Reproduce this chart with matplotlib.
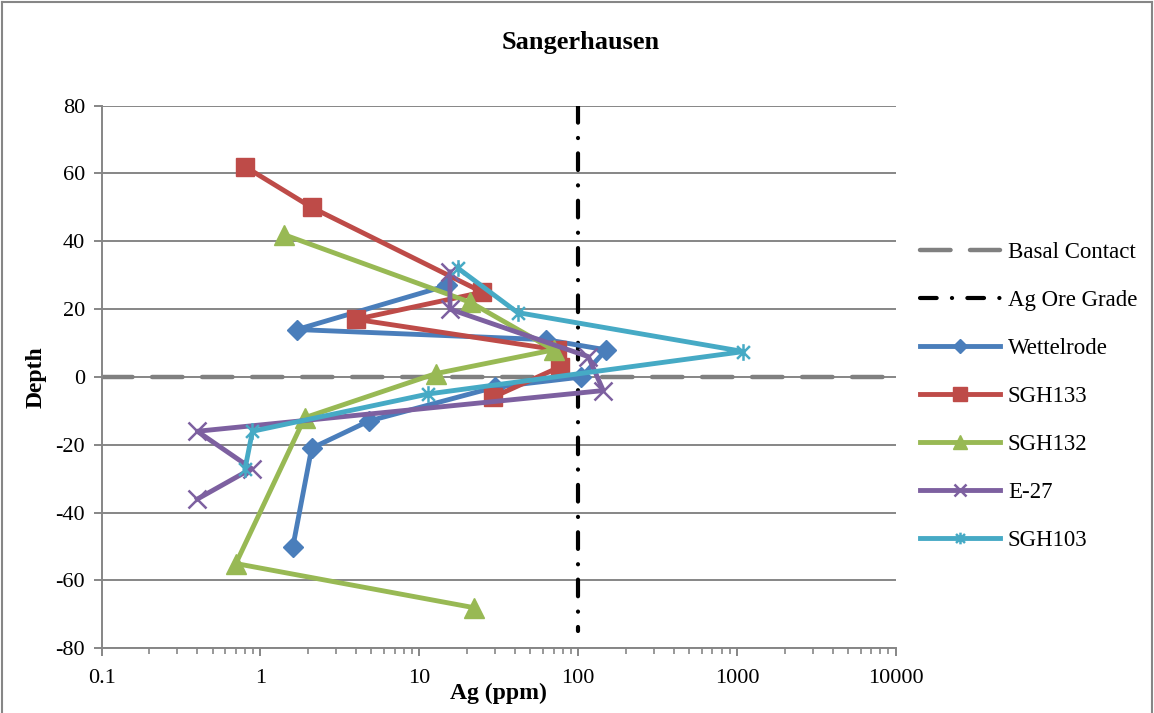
import matplotlib
matplotlib.use("Agg")
import matplotlib.pyplot as plt
from matplotlib.path import Path
from matplotlib.lines import Line2D

plt.rcParams['font.family'] = ['Liberation Serif', 'DejaVu Serif']
plt.rcParams['lines.scale_dashes'] = False
plt.rcParams['axes.unicode_minus'] = False

# Ag concentration (ppm) against depth for each profile
wettelrode_ag = [15, 1.7, 63, 150, 105, 30, 4.8, 2.1, 1.6]
wettelrode_depth = [27, 14, 11, 8, 0, -3, -13, -21, -50]

sgh133_ag = [0.8, 2.1, 25, 4, 74, 77, 29]
sgh133_depth = [62, 50, 25, 17, 8, 3, -6]

sgh132_ag = [1.4, 21, 70, 12.7, 1.9, 0.7, 22]
sgh132_depth = [42, 22, 8, 1, -12, -55, -68]

e27_ag = [15.6, 15.6, 116, 144, 0.4, 0.88, 0.4]
e27_depth = [31, 20, 6, -4, -16, -27, -36]

sgh103_ag = [17.6, 41.6, 1100, 11.4, 0.89, 0.8]
sgh103_depth = [32, 19, 7.5, -5, -16, -27]

# Reference lines
basal_ag = [0.1, 10000]
basal_depth = [0, 0]
ore_grade_ag = [100, 100]
ore_grade_depth = [80, -75]

x_ticks = [0.1, 1, 10, 100, 1000, 10000]
x_tick_labels = ['0.1', '1', '10', '100', '1000', '10000']
y_ticks = list(range(-80, 81, 20))

# Asterisk marker: an x with a vertical bar through it
star = Path([(-1, -1), (1, 1), (-1, 1), (1, -1), (0, -1.3), (0, 1.3)],
            [Path.MOVETO, Path.LINETO, Path.MOVETO, Path.LINETO, Path.MOVETO, Path.LINETO])

fig = plt.figure(figsize=(11.54, 7.13), dpi=100)
ax = fig.add_axes([0.0881, 0.0907, 0.6881, 0.7611])

grid_c = '#868686'
ax.set_xscale('log')
ax.set_xlim(0.1, 10000)
ax.set_ylim(-80, 80)
ax.set_yticks(y_ticks)
ax.set_xticks(x_ticks)
ax.set_xticklabels(x_tick_labels)
ax.yaxis.grid(True, color=grid_c, linewidth=1.4)
ax.set_axisbelow(True)
for s in ['top', 'right']:
    ax.spines[s].set_visible(False)
for s in ['left', 'bottom']:
    ax.spines[s].set_color(grid_c)
    ax.spines[s].set_linewidth(1.4)
ax.tick_params(axis='both', which='major', color=grid_c, width=1.4, length=6,
               labelsize=16, pad=6)
ax.tick_params(axis='x', which='minor', color=grid_c, width=1.2, length=4)
ax.tick_params(axis='x', which='major', pad=9)

lw = 3.5
ax.plot(basal_ag, basal_depth, color='#808080', linewidth=3.2,
        dashes=(22, 14), dash_capstyle='round', label='Basal Contact', zorder=2)
ax.plot(ore_grade_ag, ore_grade_depth, color='black', linewidth=3.0,
        dashes=(12, 11, 0.1, 11), dash_capstyle='round', label='Ag Ore Grade', zorder=2)

ax.plot(wettelrode_ag, wettelrode_depth, color='#4A7EBB', linewidth=lw,
        marker='D', markersize=10.5, label='Wettelrode', zorder=3)
ax.plot(sgh133_ag, sgh133_depth, color='#BE4B48', linewidth=lw,
        marker='s', markersize=13.5, label='SGH133', zorder=3)
ax.plot(sgh132_ag, sgh132_depth, color='#98B954', linewidth=lw,
        marker='^', markersize=14.5, label='SGH132', zorder=3)
ax.plot(e27_ag, e27_depth, color='#7D60A0', linewidth=lw,
        marker='x', markersize=13, markeredgewidth=1.8, label='E-27', zorder=3)
ax.plot(sgh103_ag, sgh103_depth, color='#46AAC5', linewidth=lw,
        marker=star, markersize=12, markeredgewidth=1.8, label='SGH103', zorder=3)

fig.text(0.503, 1 - 43 / 713, 'Sangerhausen', fontsize=19, fontweight='bold',
         ha='center', va='center')
ax.set_xlabel('Ag (ppm)', fontsize=17, fontweight='bold', labelpad=-4)
ax.set_ylabel('Depth', fontsize=17, fontweight='bold', labelpad=6)

leg = fig.legend(loc='upper left', bbox_to_anchor=(0.797, 0.661), frameon=False,
                 fontsize=16.5, handlelength=3.5, labelspacing=1.18, handletextpad=0.35,
                 borderpad=0, borderaxespad=0, markerscale=0.7)

# Chart frame
for xs, ys in [([0.002, 0.002], [0, 0.997]), ([0.002, 0.998], [0.997, 0.997]),
               ([0.998, 0.998], [0, 0.997])]:
    fig.add_artist(Line2D(xs, ys, transform=fig.transFigure, color='#868686', linewidth=1.5))

fig.savefig('out.png', dpi=100)
